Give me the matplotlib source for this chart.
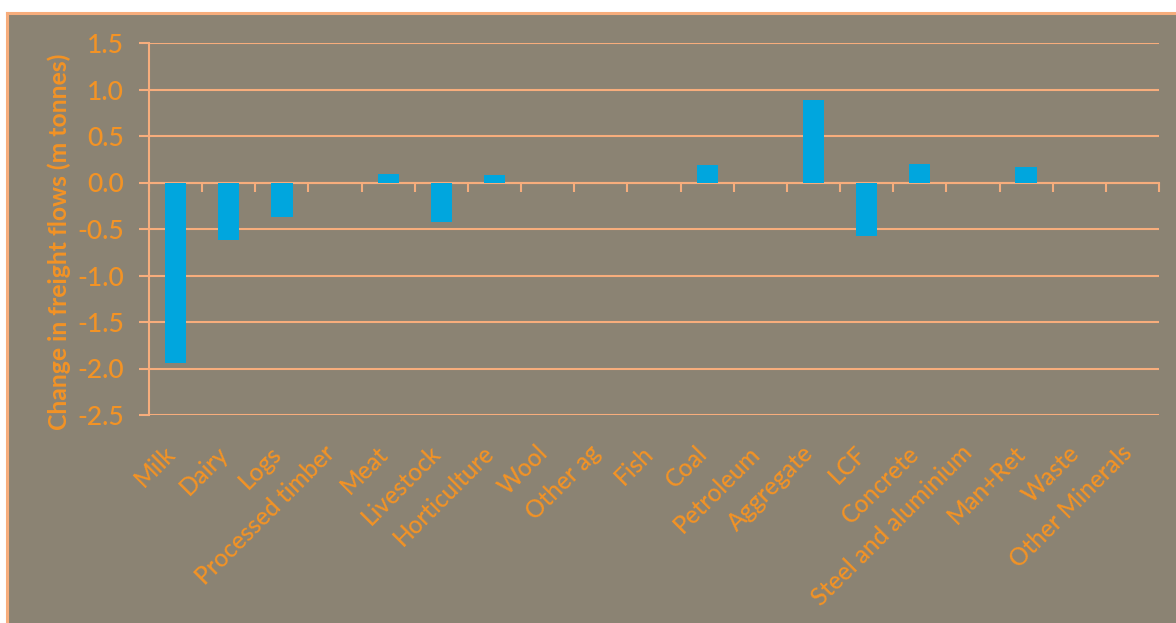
import matplotlib
matplotlib.use("Agg")
import matplotlib.pyplot as plt
from matplotlib.patches import Rectangle
from matplotlib.ticker import MultipleLocator, FixedLocator
import matplotlib.transforms as mtransforms
import numpy as np

categories = ["Milk", "Dairy", "Logs", "Processed timber", "Meat", "Livestock",
              "Horticulture", "Wool", "Other ag", "Fish", "Coal", "Petroleum",
              "Aggregate", "LCF", "Concrete", "Steel and aluminium", "Man+Ret",
              "Waste", "Other Minerals"]
change_mt = [-1.94, -0.62, -0.37, 0.0, 0.09, -0.42, 0.08, 0.0, 0.0, 0.0,
             0.19, 0.0, 0.89, -0.57, 0.20, 0.0, 0.165, 0.0, 0.0]
y_ticks = [-2.5, -2.0, -1.5, -1.0, -0.5, 0.0, 0.5, 1.0, 1.5]
y_label = "Change in freight flows (m tonnes)"

BG = "#8B8373"
LINE = "#F7AD7C"
TEXT = "#F39325"
BAR = "#00A6DE"
FONT = ["Lato", "DejaVu Sans"]

W, H = 1176, 623
fig = plt.figure(figsize=(W / 100, H / 100), dpi=100, facecolor="white")

# chart area panel with an orange border on its top and left edges
fig.patches.append(Rectangle((7 / W, 0), 1.0, 1 - 13 / H, transform=fig.transFigure,
                             facecolor=BG, edgecolor="none", zorder=-2))
fig.lines.append(plt.Line2D([7 / W, 7 / W], [0, 1 - 13 / H], transform=fig.transFigure,
                            color=LINE, lw=2.2, zorder=-1))
fig.lines.append(plt.Line2D([7 / W, 1.0], [1 - 13 / H, 1 - 13 / H], transform=fig.transFigure,
                            color=LINE, lw=2.2, zorder=-1))

ax = fig.add_axes([149 / W, 1 - 415 / H, (1159 - 149) / W, (415 - 43) / H])
ax.set_facecolor("none")
ax.set_zorder(1)

x = np.arange(len(categories))
ax.bar(x, change_mt, width=0.4, color=BAR, zorder=3)

ax.set_xlim(-0.5, len(categories) - 0.5)
ax.set_ylim(min(y_ticks), max(y_ticks))
ax.set_yticks(y_ticks)
ax.set_yticklabels([f"{v:.1f}" for v in y_ticks], fontsize=19, color=TEXT,
                   family=FONT, fontweight="medium")
ax.yaxis.grid(True, color=LINE, lw=1.5, zorder=1)
ax.set_axisbelow(True)
ax.tick_params(axis="y", length=7, width=1.5, color=LINE, pad=11, direction="out")

for side in ("top", "right"):
    ax.spines[side].set_visible(False)
ax.spines["left"].set_color(LINE)
ax.spines["left"].set_linewidth(1.5)
ax.spines["left"].set_zorder(2)

# category axis line sits at zero, with tick marks between categories
ax.spines["bottom"].set_position(("data", 0))
ax.spines["bottom"].set_color(LINE)
ax.spines["bottom"].set_linewidth(1.5)
ax.xaxis.set_major_locator(FixedLocator([]))
ax.xaxis.set_minor_locator(MultipleLocator(1, offset=0.5))
ax.tick_params(axis="x", which="minor", length=6.5, width=1.5, color=LINE, direction="out")

# category labels below the plot area
sec = ax.secondary_xaxis(0)
sec.spines["bottom"].set_visible(False)
sec.set_xticks(x)
sec.set_xticklabels(categories, rotation=45, ha="right", rotation_mode="default",
                    fontsize=17.5, color=TEXT, family=FONT, fontweight="medium")
sec.tick_params(axis="x", length=0, pad=19)
shift = mtransforms.ScaledTranslation(4 / 100, 0, fig.dpi_scale_trans)
for lbl in sec.get_xticklabels():
    lbl.set_transform(lbl.get_transform() + shift)

fig.text(59 / W, 1 - 242 / H, y_label, rotation=90, ha="center", va="center",
         fontsize=17.8, fontweight="bold", color=TEXT, family=FONT)

fig.savefig("out.png", dpi=100, facecolor="white")
